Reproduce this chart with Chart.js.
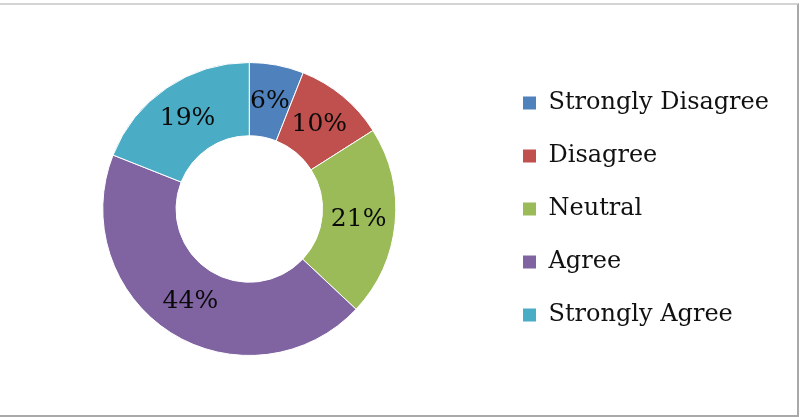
<!DOCTYPE html>
<html>
<head>
<meta charset="utf-8">
<script src="https://cdn.jsdelivr.net/npm/chart.js@4"></script>
<style>
  html, body { margin:0; padding:0; background:#fff; }
  #wrap { position:relative; width:804px; height:417px; overflow:hidden; }
  #frame { position:absolute; left:-4px; top:3px; width:801px; height:410px;
           border-top:2px solid #d4d4d4; border-right:2px solid #a9a9a9; border-bottom:2px solid #a9a9a9; }
  canvas { position:absolute; left:5px; top:0; }
</style>
</head>
<body>
<div id="wrap">
  <div id="frame"></div>
  <canvas id="grafico" width="804" height="417"></canvas>
</div>
<script>
const categorias = ["Strongly Disagree", "Disagree", "Neutral", "Agree", "Strongly Agree"];
const valores = [6, 10, 21, 44, 19];
const cores = ["#4f81bd", "#c0504d", "#9bbb59", "#8064a2", "#4bacc6"];

const fonte = "'DejaVu Serif', 'Liberation Serif', serif";

// rotulos de porcentagem no meio do anel
const rotulos = {
  id: "rotulos",
  afterDatasetsDraw(chart){
    const ctx = chart.ctx;
    const meta = chart.getDatasetMeta(0);
    ctx.save();
    ctx.font = "25px " + fonte;
    ctx.fillStyle = "#0a0a0a";
    ctx.textAlign = "center";
    ctx.textBaseline = "middle";
    meta.data.forEach((arc, i) => {
      const p = arc.getProps(["x","y","startAngle","endAngle","innerRadius","outerRadius"], true);
      const a = (p.startAngle + p.endAngle) / 2;
      const r = (p.innerRadius + p.outerRadius) / 2;
      ctx.fillText(valores[i] + "%", p.x + Math.cos(a) * r, p.y + Math.sin(a) * r);
    });
    ctx.restore();
  }
};

let chart = new Chart(document.getElementById("grafico"), {
  type: "doughnut",
  data: {
    labels: categorias,
    datasets: [{
      data: valores,
      backgroundColor: cores,
      borderColor: "#fff",
      borderWidth: 1
    }]
  },
  options: {
    responsive: false,
    animation: false,
    cutout: "50%",
    layout: { padding: { top: 62, bottom: 61, left: 0, right: 30 } },
    plugins: {
      tooltip: { enabled: false },
      legend: {
        position: "right",
        labels: {
          font: { family: fonte, size: 24 },
          color: "#111",
          boxWidth: 14,
          boxHeight: 14,
          padding: 29
        }
      }
    }
  },
  plugins: [rotulos]
});
</script>
</body>
</html>
